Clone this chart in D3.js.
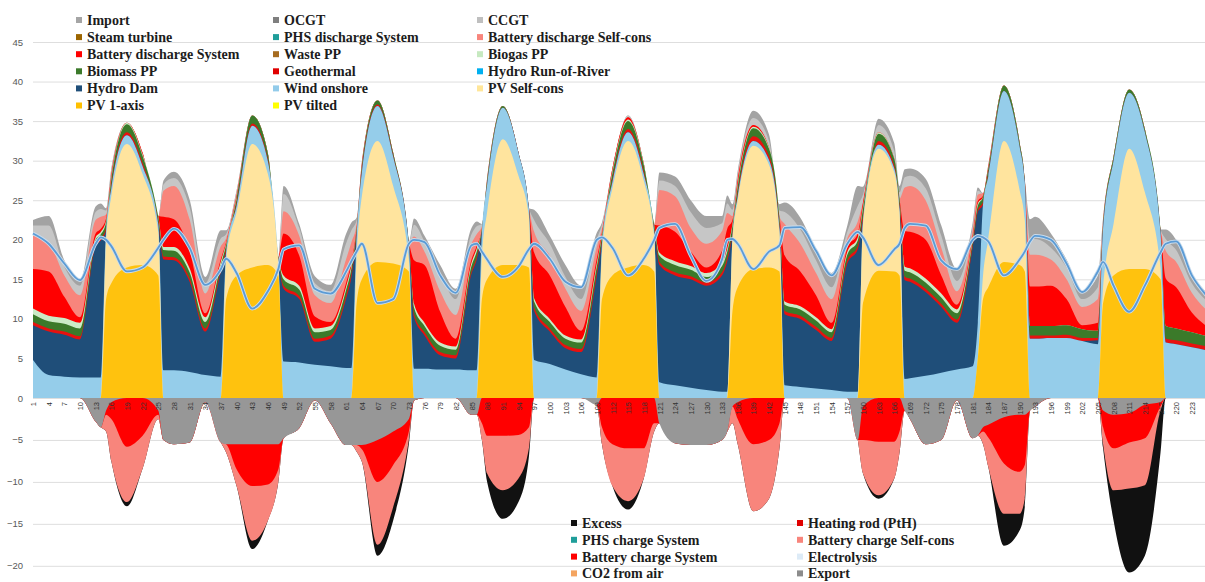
<!DOCTYPE html>
<html>
<head>
<meta charset="utf-8">
<script src="https://cdn.jsdelivr.net/npm/d3@7"></script>
<style>
  html, body { margin: 0; padding: 0; background: #ffffff; }
  svg { display: block; }
</style>
</head>
<body>
<svg id="chart" width="1205" height="582"></svg>
<script>
// Sampled hours (every third hour, plus the hours around sunrise and sunset)
const hours = [1,4,7,10,13, 14,15,16,19,22, 25,26,28,31,34, 37,38,40,43,46,
  48,49,52,55,58, 61,62,63,64,67, 70,73,74,76,79, 82,85,86,87,88,
  91,94,96,97,100, 103,106,109,110,112, 115,118,120,121,124, 127,130,133,134,135,
  136,139,142,144,145, 148,151,154,157,159, 160,163,166,167,168, 169,172,175,178,181,
  182,183,184,187,190, 191,192,193,196,199, 202,205,206,208,211, 214,217,218,220,223,
  226];
// Hours that carry a label on the axis
const hourLabels = [1,4,7,10,13,16,19,22, 25,28,31,34,37,40,43,46, 49,52,55,58,61,64,67,70,
  73,76,79,82,85,88,91,94, 97,100,103,106,109,112,115,118, 121,124,127,130,133,136,139,142,
  145,148,151,154,157,160,163,166, 169,172,175,178,181,184,187,190, 193,196,199,202,205,208,211,214,
  217,220,223];

// Generation (GW), positive side
const pv1Axis = [0,0,0,0,0, 0,12.5,14.5,16.5,16.8, 15.5,0,0,0,0, 0,12.5,15.5,16.5,16.8,
  15.5,0,0,0,0, 0,0,12.0,15.0,17.2, 17.0,16.0,0,0,0, 0,0,0,12.5,15.0,
  16.8,16.8,16.5,0,0, 0,0,0,12.5,15.5, 16.5,16.8,16.0,0,0, 0,0,0,0,11.0,
  14.0,16.3,16.5,16.0,0, 0,0,0,0,0, 12.0,16.1,16.0,15.5,0, 0,0,0,0,0,
  5.0,12.5,14.0,17.2,16.8, 16.0,0,0,0,0, 0,0,12.0,15.5,16.3, 16.3,15.0,0,0,0,
  0];
const pvSelfCons = [0,0,0,0,0, 0,7.5,11.0,15.6,11.5, 5.5,0,0,0,0, 0,5.0,8.0,15.6,11.5,
  1.5,0,0,0,0, 0,0,6.0,10.5,15.3, 9.8,1.5,0,0,0, 0,0,0,5.5,8.5,
  15.9,11.3,6.5,0,0, 0,0,0,6.0,11.0, 16.0,10.7,4.5,0,0, 0,0,0,0,9.0,
  11.0,15.6,13.0,5.0,0, 0,0,0,0,0, 10.0,15.4,12.5,8.0,0, 0,0,0,0,0,
  0,3.0,6.0,15.3,9.5, 6.5,0,0,0,0, 0,0,2.0,6.5,15.2, 9.7,1.5,0,0,0,
  0];
const windOnshore = [4.8,2.9,2.7,2.6,2.6, 2.6,1.2,1.0,1.1,1.0, 1.0,3.5,3.5,3.3,2.9, 2.7,1.0,0.8,2.3,1.6,
  0.5,4.6,4.5,4.2,4.0, 3.8,3.8,2.5,3.0,4.4, 3.7,2.0,3.7,3.7,3.6, 3.6,3.5,3.5,3.0,3.5,
  4.0,2.9,1.0,4.8,4.3, 3.6,3.0,2.6,1.0,0.8, 1.1,0.8,0.6,2.0,1.6, 1.3,1.0,0.8,0.8,0.5,
  0.5,0.6,0.6,0.5,1.6, 1.4,1.2,1.0,0.8,0.8, 0.5,0.5,0.5,0.5,2.4, 2.5,2.8,3.2,3.6,4.0,
  4.5,9.0,8.0,6.3,5.5, 4.8,7.5,7.5,7.6,7.6, 7.2,6.8,7.5,8.0,7.1, 7.6,4.5,7.0,6.8,6.4,
  6.0];
const hydroDam = [4.4,5.5,5.3,4.8,16.6, 17.3,0,0,0,0, 0,14.0,13.9,11.4,5.5, 13.3,0,0,0,0,
  0,9.2,8.0,2.9,3.5, 8.8,11.5,0,0,0, 0,0,6.5,4.2,1.8, 1.4,12.2,14.0,0,0,
  0,0,0,6.2,4.1, 2.7,2.8,12.8,0,0, 0,0,0,14.8,13.9, 13.7,13.2,14.7,16.5,0,
  0,0,0,0,9.0, 8.6,7.4,6.2,16.2,18.0, 0,0,0,0,12.5, 12.2,10.6,8.3,5.9,15.0,
  14.0,0,0,0,0, 0,0,0,0,0, 0,0.5,0,0,0, 0,0,0,0,0,
  0];
const geothermal = [0.4,0.4,0.4,0.4,0.3, 0.3,0.3,0.3,0.4,0.4, 0.3,0.4,0.4,0.4,0.4, 0.3,0.3,0.3,0.3,0.3,
  0,0.4,0.4,0.4,0.4, 0.4,0.4,0.3,0.3,0.2, 0.2,0,0.4,0.4,0.4, 0.4,0.3,0.3,0,0,
  0,0,0,0.4,0.4, 0.4,0.4,0.4,0.3,0.3, 0.4,0.4,0.3,0.4,0.4, 0.4,0.4,0.4,0.4,0.4,
  0.4,0.6,0.5,0.4,0.4, 0.4,0.4,0.4,0.4,0.4, 0.5,0.5,0.4,0.4,0.4, 0.4,0.4,0.4,0.4,0.3,
  0.3,0.3,0.3,0,0, 0,0.4,0.4,0.3,0.4, 0.4,0.3,0,0,0, 0,0,0.5,0.5,0.5,
  0.5];
const biomass = [1.0,0.9,1.0,1.0,0.5, 0.5,0.7,0.8,1.0,0.9, 0.6,0.8,0.8,0.8,0.8, 0.6,0.5,0.5,1.0,0.7,
  0.3,0.8,0.8,0.8,0.7, 0.7,0.7,0.5,0.5,0.5, 0.3,0.2,0.8,0.8,0.8, 0.7,0.7,0.7,0.4,0.5,
  0.2,0,0,0.8,0.8, 0.8,0.8,0.8,0.6,0.8, 1.0,0.8,0.5,0.8,0.9, 0.8,0.7,0.8,0.8,0.8,
  0.8,1.0,0.9,0.8,0.8, 0.8,0.8,0.7,0.7,0.7, 0.9,0.9,0.8,0.8,0.8, 0.8,0.8,0.8,0.8,0.5,
  0.5,0.6,0.6,0.7,0.5, 0.3,1.2,1.2,1.2,1.2, 1.1,0.9,0.5,0.5,0.4, 0.4,0.3,1.6,1.5,1.4,
  1.3];
const biogas = [0.7,0.7,0.7,0.7,0.3, 0.3,0.2,0.2,0.2,0.2, 0.1,0.4,0.5,0.5,0.6, 0.4,0.2,0.2,0,0,
  0,0.5,0.5,0.5,0.5, 0.4,0.4,0,0,0, 0,0,0.5,0.4,0.4, 0.4,0.4,0.4,0,0,
  0,0,0,0.4,0.4, 0.4,0.4,0.4,0.2,0.3, 0.2,0.2,0,0.4,0.5, 0.5,0.5,0.4,0.4,0.3,
  0.3,0.2,0.2,0.2,0.4, 0.4,0.4,0.4,0.4,0.4, 0.3,0.2,0,0,0.5, 0.5,0.5,0.5,0.5,0.3,
  0.3,0,0,0,0, 0,0,0,0,0, 0,0,0,0,0, 0,0,0,0,0,
  0];
const batteryDischargeSystem = [5.0,5.6,2.7,0.7,0.5, 0.4,0.3,0.3,0,0.2, 0,3.8,3.5,2.2,0.5, 0.3,0.2,0.2,0,0,
  0,5.3,3.8,1.5,0.5, 0.5,0.4,0.2,0.2,0, 0,0,5.5,7.3,3.9, 1.0,0.4,0.3,0,0,
  0,0,0,5.8,5.5, 3.6,1.1,0.6,0.3,0.3, 0.3,0,0,3.4,3.7, 1.8,0.7,1.5,2.5,0.5,
  0.5,0.2,0,0,5.8, 4.4,2.8,0.8,0.5,0.5, 0.5,0,0,0,4.5, 4.6,4.9,2.3,0.6,0.3,
  0.3,0.2,0.2,0,0, 0,5.0,5.0,5.1,3.3, 0.5,1.0,0,0,0, 0,0,6.0,5.2,2.5,
  1.2];
const batteryDischargeSelf = [4.2,3.6,2.7,2.8,1.7, 1.5,0.5,0.4,0,0, 0,3.3,4.2,4.0,2.5, 1.6,0.5,0.4,0,0,
  0,2.8,2.5,2.7,2.4, 3.0,2.5,0.5,0.3,0, 0,0,3.0,1.7,2.6, 3.0,2.0,1.5,0.3,0.3,
  0,0,0,2.6,2.5, 2.3,2.5,1.5,0.5,0, 0,0,0,4.5,4.5, 3.0,3.0,2.5,2.0,0.5,
  0.4,0,0,0,4.0, 3.5,2.8,3.0,1.2,1.5, 0,0,0,0,5.5, 5.8,5.0,3.5,1.7,0.8,
  0.8,0.3,0.3,0,0, 0,4.0,4.0,3.3,2.5, 2.3,3.0,0.5,0,0, 0,0,3.5,3.2,2.5,
  2.0];
const ccgt = [1.3,2.2,1.1,1.2,1.0, 1.0,0.5,0.3,0,0, 0,0.8,1.0,1.5,1.3, 1.0,0.5,0.3,0,0,
  0,2.2,1.0,1.5,1.5, 2.0,1.5,0.5,0,0, 0,0,1.5,1.3,2.3, 2.0,1.2,1.0,0.3,0,
  0,0,0,1.5,1.5, 1.5,1.5,1.0,0.5,0, 0.2,0,0,1.2,1.3, 2.0,2.0,1.0,1.2,0.8,
  0.5,0.9,0.8,0.8,1.5, 1.8,1.6,1.5,0.8,2.0, 1.0,0.9,1.0,0.8,1.3, 1.3,1.5,1.5,1.3,0.5,
  0.5,0,0,0,0, 0,2.0,2.0,1.5,1.5, 1.0,1.5,0.3,0,0, 0,0,1.5,1.5,1.2,
  1.2];
const importPower = [0.7,1.2,0.8,0.6,0.7, 0.7,0.3,0.2,0,0, 0,0.5,0.8,1.0,0.8, 1.0,0.5,0,0,0,
  0,1.0,0.5,0.9,0.8, 1.2,1.0,0.3,0,0, 0,0,0.8,0.7,1.0, 1.3,0.8,0.6,0,0,
  0,0,0,1.3,1.0, 1.5,1.7,0.8,0.3,0, 0,0,0,1.0,1.2, 1.5,1.5,0.9,1.0,0.7,
  0.3,0.9,0.8,0.8,1.2, 1.5,1.4,1.8,0.8,2.5, 1.0,0.8,1.0,0.8,1.0, 0.9,1.2,1.3,1.5,0.4,
  0.4,0,0,0,0, 0,2.5,2.8,1.8,1.0, 1.0,1.5,0,0,0, 0,0,1.2,1.3,1.2,
  1.0];

// Consumption side (GW, drawn below zero)
const exportPower = [0,0,0,0,2.8, 3.5,1.5,0.5,0,0, 1.5,5.0,5.5,5.3,0.5, 5.3,5.5,5.5,5.5,5.5,
  5.5,4.8,3.6,0.3,3.0, 5.6,5.6,5.6,5.6,5.0, 4.0,2.5,0.3,0,0, 0,2.0,2.0,0,0,
  0,0,0,0,0, 0,0,0.8,0,0, 0,0,0,3.0,5.4, 5.6,5.6,5.0,4.0,1.0,
  0.5,0,0,0,0, 0,0,0,0,5.0, 1.0,0,0,0,1.5, 2.5,5.5,5.0,0.3,4.8,
  4.5,3.5,3.2,2.3,2.0, 2.0,1.5,1.0,0,0, 0,0,1.5,2.0,1.8, 0.8,0.5,0,0,0,
  0];
const batteryChargeSystem = [0,0,0,0,0, 0,0.5,2.0,5.8,4.5, 0.5,0,0,0,0, 0,0,3.0,5.0,4.8,
  3.0,0,0,0,0, 0,0,0,0.5,5.0, 4.0,1.5,0,0,0, 0,0,0,3.0,4.5,
  4.5,4.4,3.5,0,0, 0,0,0,3.5,5.5, 6.0,6.0,3.0,0,0, 0,0,0,0,0,
  2.0,5.5,5.0,3.0,0, 0,0,0,0,0, 4.0,5.2,5.2,4.0,0, 0,0,0,0,0,
  0,0.5,1.5,5.5,6.8, 6.0,0,0,0,0, 0,0,2.0,4.0,3.5, 4.0,0.5,0,0,0,
  0];
const batteryChargeSelf = [0,0,0,0,0, 0,2.0,5.0,6.6,3.9, 0.5,0,0,0,0, 0,1.0,2.0,6.5,4.3,
  1.5,0,0,0,0, 0,0,0.8,1.5,7.5, 5.0,1.0,0,0,0, 0,0,0,2.0,4.5,
  6.5,5.2,2.5,0,0, 0,0,0,2.0,5.0, 6.3,3.6,1.0,0,0, 0,0,0,0,2.0,
  3.0,8.0,7.0,3.0,0, 0,0,0,0,0, 4.0,6.4,4.4,2.5,0, 0,0,0,0,0,
  0,1.5,3.5,6.0,5.0, 4.0,0,0,0,0, 0,0,2.0,5.0,5.5, 5.6,0.5,0,0,0,
  0];
const excess = [0,0,0,0,0, 0,0,0,0.5,0, 0,0,0,0,0, 0,0,0,1.0,0,
  0,0,0,0,0, 0,0,0,0,1.3, 1.6,0.5,0,0,0, 0,0,0,0,1.0,
  3.4,2.8,1.0,0,0, 0,0,0,0,0, 1.0,0,0,0,0, 0,0,0,0,0,
  0,0,0,0,0, 0,0,0,0,0, 0,0.4,0,0,0, 0,0,0,0,0,
  0,0,0,3.8,2.0, 1.0,0,0,0,0, 0,0,0.5,3.6,10.0, 8.4,5.0,0,0,0,
  0];

// Load curve
const load = [20.8,19.5,17.0,14.9,19.5, 20.3,20.0,19.2,16.0,16.5, 19.0,20.0,21.4,19.0,14.3, 16.3,17.6,15.8,11.3,13.5,
  16.3,18.8,19.3,13.8,13.2, 16.0,17.3,18.5,19.5,12.0, 12.5,19.5,20.0,19.7,15.5, 13.3,19.3,19.5,18.5,17.5,
  15.3,16.6,18.8,19.5,17.6, 14.7,14.0,20.0,20.3,19.0, 15.5,17.6,20.0,21.5,22.0, 18.0,14.8,17.5,20.0,20.1,
  19.5,16.3,18.5,19.3,21.5, 21.6,18.6,15.5,19.5,21.0, 20.3,16.8,18.8,19.5,21.5, 22.0,21.8,17.4,16.3,20.0,
  20.5,20.3,19.8,15.5,17.5, 18.5,19.8,20.5,20.0,17.0, 13.4,16.0,17.2,14.2,10.9, 14.2,18.4,19.5,19.8,15.5,
  12.8];

const yTicks = [-20,-15,-10,-5,0,5,10,15,20,25,30,35,40,45];

// Stack order, bottom to top
const positiveLayers = [
  { name: 'PV 1-axis', values: pv1Axis, color: '#FFC20E' },
  { name: 'PV Self-cons', values: pvSelfCons, color: '#FFE49E' },
  { name: 'Wind onshore', values: windOnshore, color: '#95CDEA' },
  { name: 'Hydro Dam', values: hydroDam, color: '#1F4E79' },
  { name: 'Geothermal', values: geothermal, color: '#E8110F' },
  { name: 'Biomass PP', values: biomass, color: '#3B7A2A' },
  { name: 'Biogas PP', values: biogas, color: '#CBEBC6' },
  { name: 'Battery discharge System', values: batteryDischargeSystem, color: '#FF0000' },
  { name: 'Battery discharge Self-cons', values: batteryDischargeSelf, color: '#F8857C' },
  { name: 'CCGT', values: ccgt, color: '#C6C6C6' },
  { name: 'Import', values: importPower, color: '#A3A3A3' }
];
// Stack order, from zero downwards
const negativeLayers = [
  { name: 'Export', values: exportPower, color: '#979797' },
  { name: 'Battery charge System', values: batteryChargeSystem, color: '#FF0000' },
  { name: 'Battery charge Self-cons', values: batteryChargeSelf, color: '#F8857C' },
  { name: 'Excess', values: excess, color: '#111111' }
];

const topLegend = [
  ['Import', '#A5A5A5'], ['OCGT', '#7F7F7F'], ['CCGT', '#BFBFBF'],
  ['Steam turbine', '#9C6500'], ['PHS discharge System', '#1F9E9A'], ['Battery discharge Self-cons', '#F8857C'],
  ['Battery discharge System', '#FF0000'], ['Waste PP', '#A66B1F'], ['Biogas PP', '#C6E9C0'],
  ['Biomass PP', '#3B7A2A'], ['Geothermal', '#E00000'], ['Hydro Run-of-River', '#00B0F0'],
  ['Hydro Dam', '#1F4E79'], ['Wind onshore', '#92CBEA'], ['PV Self-cons', '#FFE699'],
  ['PV 1-axis', '#FFC000'], ['PV tilted', '#FFFF00']
];
const bottomLegend = [
  ['Excess', '#111111'], ['Heating rod (PtH)', '#E00000'],
  ['PHS charge System', '#1F9E9A'], ['Battery charge Self-cons', '#F8857C'],
  ['Battery charge System', '#FF0000'], ['Electrolysis', '#DDEBF7'],
  ['CO2 from air', '#F4A460'], ['Export', '#8C8C8C']
];

const W = 1205, H = 582;
const plotLeft = 33;
const svg = d3.select('#chart');

const x = d3.scaleLinear().domain([1, 226]).range([plotLeft, 1207.5]);
const y = d3.scaleLinear().domain([-25, 0, 50]).range([607.75, 398, 2.45]);

function toTable(layers) {
  return hours.map((h, i) => {
    const row = { hour: h };
    layers.forEach(l => { row[l.name] = l.values[i]; });
    return row;
  });
}

// Horizontal grid and value labels
const yAxis = d3.axisLeft(y).tickValues(yTicks).tickSize(-(W - plotLeft)).tickPadding(10);
const gy = svg.append('g').attr('transform', `translate(${plotLeft},0)`).call(yAxis);
gy.select('.domain').remove();
gy.selectAll('.tick line').attr('stroke', '#dedede').attr('stroke-width', 1);
gy.selectAll('.tick text')
  .attr('fill', '#595959')
  .style('font-family', '"Liberation Sans", Arial, sans-serif')
  .style('font-size', '9.5px');

const plot = svg.append('g');

// Each band is painted from the zero line up to its own top, outermost band first,
// so neighbouring bands share no anti-aliased seam.
const posStack = d3.stack().keys(positiveLayers.map(l => l.name))(toTable(positiveLayers));
const posArea = d3.area()
  .x(d => x(d.data.hour))
  .y0(() => y(0))
  .y1(d => y(d[1]))
  .curve(d3.curveMonotoneX);
plot.selectAll('path.pos')
  .data(posStack.slice().reverse())
  .join('path')
  .attr('class', 'pos')
  .attr('d', posArea)
  .attr('fill', d => positiveLayers[d.index].color);

const negStack = d3.stack().keys(negativeLayers.map(l => l.name))(toTable(negativeLayers));
const negArea = d3.area()
  .x(d => x(d.data.hour))
  .y0(() => y(0))
  .y1(d => y(-d[1]))
  .curve(d3.curveMonotoneX);
plot.selectAll('path.neg')
  .data(negStack.slice().reverse())
  .join('path')
  .attr('class', 'neg')
  .attr('d', negArea)
  .attr('fill', d => negativeLayers[d.index].color);

// Hour labels along the zero line
const xAxis = d3.axisBottom(x).tickValues(hourLabels).tickSize(0).tickFormat(d3.format('d'));
const gx = svg.append('g').attr('transform', `translate(0,${y(0)})`).call(xAxis);
gx.select('.domain').remove();
gx.selectAll('.tick text')
  .attr('transform', 'rotate(-90)')
  .attr('x', -4)
  .attr('y', 0)
  .attr('dy', '0.35em')
  .style('text-anchor', 'end')
  .attr('fill', '#333333')
  .style('font-family', '"Liberation Sans", Arial, sans-serif')
  .style('font-size', '7.5px');

// Load line
const loadLine = d3.line()
  .x((d, i) => x(hours[i]))
  .y(d => y(d))
  .curve(d3.curveMonotoneX);
svg.append('path').attr('d', loadLine(load))
  .attr('fill', 'none').attr('stroke', '#c9dced').attr('stroke-width', 3.6);
svg.append('path').attr('d', loadLine(load))
  .attr('fill', 'none').attr('stroke', '#5B9BD5').attr('stroke-width', 1.8);

// Legends
function drawLegend(items, cols, colX, rowY0, rowStep) {
  const g = svg.append('g')
    .style('font-family', '"Liberation Serif", "Times New Roman", serif')
    .style('font-weight', 'bold')
    .style('font-size', '14px');
  items.forEach((it, i) => {
    const c = i % cols, r = Math.floor(i / cols);
    const cy = rowY0 + r * rowStep;
    g.append('rect')
      .attr('x', colX[c] - 11).attr('y', cy - 3)
      .attr('width', 6).attr('height', 6)
      .attr('fill', it[1]);
    g.append('text')
      .attr('x', colX[c]).attr('y', cy)
      .attr('dy', '0.35em')
      .attr('fill', '#1c1c1c')
      .text(it[0]);
  });
}
drawLegend(topLegend, 3, [87, 284, 488], 20, 17.1);
drawLegend(bottomLegend, 2, [582, 808], 523, 16.8);
</script>
</body>
</html>
